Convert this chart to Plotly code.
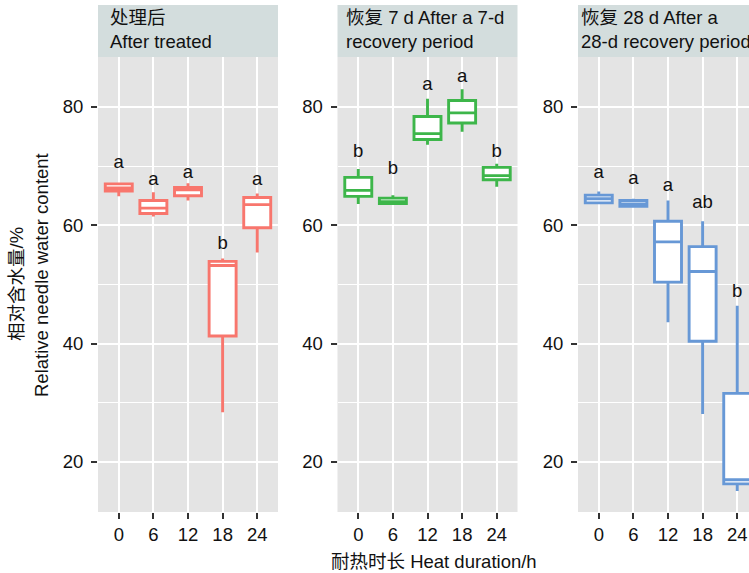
import plotly.graph_objects as go

# Heat duration groups (h)
durations = ["0", "6", "12", "18", "24"]

# Facet titles
facet_titles = [
    "处理后<br>After treated",
    "恢复 7 d After a 7-d<br>recovery period",
    "恢复 28 d After a<br>28-d recovery period",
]

# Relative needle water content (%) box statistics, per facet
after_upper = [67.0, 65.6, 67.1, 54.4, 65.4]
after_q3 = [67.0, 64.2, 66.4, 53.9, 64.7]
after_median = [66.3, 62.9, 66.0, 53.2, 63.5]
after_q1 = [65.8, 62.0, 65.0, 41.3, 59.6]
after_lower = [64.9, 61.5, 64.2, 28.4, 55.4]
after_letters = ["a", "a", "a", "b", "a"]
after_letter_y = [70.4, 67.6, 68.7, 56.7, 67.6]

rec7_upper = [69.5, 65.1, 81.4, 83.0, 70.4]
rec7_q3 = [68.1, 64.6, 78.4, 81.1, 69.8]
rec7_median = [65.9, 64.0, 75.5, 79.0, 68.4]
rec7_q1 = [64.9, 63.7, 74.5, 77.3, 67.7]
rec7_lower = [63.6, 63.7, 73.6, 75.8, 66.5]
rec7_letters = ["b", "b", "a", "a", "b"]
rec7_letter_y = [72.3, 69.4, 83.6, 85.0, 72.3]

rec28_upper = [65.7, 64.5, 64.2, 60.7, 46.4]
rec28_q3 = [65.1, 64.2, 60.7, 56.4, 31.6]
rec28_median = [64.5, 63.6, 57.2, 52.2, 17.0]
rec28_q1 = [63.8, 63.2, 50.4, 40.4, 16.3]
rec28_lower = [63.8, 63.2, 43.6, 28.1, 15.1]
rec28_letters = ["a", "a", "a", "ab", "b"]
rec28_letter_y = [68.7, 67.8, 66.5, 63.7, 48.7]

colors = ["#F8766D", "#3DB64A", "#6798D6"]

facets = [
    (after_lower, after_q1, after_median, after_q3, after_upper, after_letters, after_letter_y),
    (rec7_lower, rec7_q1, rec7_median, rec7_q3, rec7_upper, rec7_letters, rec7_letter_y),
    (rec28_lower, rec28_q1, rec28_median, rec28_q3, rec28_upper, rec28_letters, rec28_letter_y),
]

W, H = 749, 573
FONT = "Liberation Sans, Arial, Noto Sans CJK SC, sans-serif"
FS = 18.5


def fx(p):
    return p / W


def fy(p):
    return 1 - p / H


panel_left = [98, 337.5, 578]
panel_w = 180.0
unit = panel_w / 5.2
top_px, bot_px = 57, 512
strip_top = 5

fig = go.Figure()
layout = dict(
    width=W, height=H,
    margin=dict(l=0, r=0, t=0, b=0),
    paper_bgcolor="white",
    plot_bgcolor="#E4E4E4",
    showlegend=False,
    font=dict(family=FONT, size=FS, color="#1a1a1a"),
    shapes=[], annotations=[],
)

for i, (lo, q1, med, q3, up, letters, ly) in enumerate(facets):
    k = "" if i == 0 else str(i + 1)
    xa, ya = "x" + k, "y" + k
    left = panel_left[i]
    right = min(left + panel_w, W)
    xmax = -0.6 + (right - left) / unit

    fig.add_trace(go.Box(
        x=durations, lowerfence=lo, q1=q1, median=med, q3=q3, upperfence=up,
        xaxis=xa, yaxis=ya, width=0.78, whiskerwidth=0,
        line=dict(color=colors[i], width=2.9), fillcolor="white",
        boxpoints=False, hoverinfo="skip",
    ))
    fig.add_trace(go.Scatter(
        x=durations, y=ly, text=letters, mode="text",
        textfont=dict(size=FS, color="#111111", family=FONT),
        xaxis=xa, yaxis=ya, cliponaxis=False, hoverinfo="skip",
    ))

    layout["xaxis" + k] = dict(
        domain=[fx(left), fx(right)], anchor=ya, type="category",
        categoryorder="array", categoryarray=durations,
        range=[-0.6, xmax], showgrid=True, gridcolor="white", gridwidth=1.7,
        ticks="outside", ticklen=6, tickwidth=2, tickcolor="#333333",
        zeroline=False, showline=False,
        tickfont=dict(size=FS, color="#111111"),
    )
    layout["yaxis" + k] = dict(
        domain=[fy(bot_px), fy(top_px)], anchor=xa,
        range=[11.55, 88.45], tick0=0, dtick=20,
        showgrid=True, gridcolor="white", gridwidth=1.7,
        minor=dict(dtick=10, tick0=0, showgrid=True, gridcolor="white", gridwidth=0.9),
        ticks="outside", ticklen=6, tickwidth=2, tickcolor="#333333",
        zeroline=False, showline=False,
        tickfont=dict(size=FS, color="#111111"),
        ticklabelstandoff=4,
    )

    layout["shapes"].append(dict(
        type="rect", xref="paper", yref="paper",
        x0=fx(left), x1=fx(left + panel_w), y0=fy(top_px), y1=fy(strip_top),
        fillcolor="#D3DDDD", line=dict(width=0), layer="below",
    ))

strip_text_x = [108, 344, 579]
for i, t in enumerate(facet_titles):
    layout["annotations"].append(dict(
        text=t, xref="paper", yref="paper",
        x=fx(strip_text_x[i]), y=fy((strip_top + top_px) / 2 - 1),
        xanchor="left", yanchor="middle", align="left", showarrow=False,
        font=dict(size=FS, color="#111111", family=FONT),
    ))

# axis titles
layout["annotations"].append(dict(
    text="耐热时长 Heat duration/h", xref="paper", yref="paper",
    x=fx(434), y=fy(561), xanchor="center", yanchor="middle", showarrow=False,
    font=dict(size=FS, color="#111111", family=FONT),
))
layout["annotations"].append(dict(
    text="相对含水量/%", xref="paper", yref="paper", textangle=-90,
    x=fx(17), y=fy(284), xanchor="center", yanchor="middle", showarrow=False,
    font=dict(size=FS, color="#111111", family=FONT),
))
layout["annotations"].append(dict(
    text="Relative needle water content", xref="paper", yref="paper", textangle=-90,
    x=fx(41), y=fy(275), xanchor="center", yanchor="middle", showarrow=False,
    font=dict(size=FS, color="#111111", family=FONT),
))

fig.update_layout(**layout)
fig.write_html("out.html")
